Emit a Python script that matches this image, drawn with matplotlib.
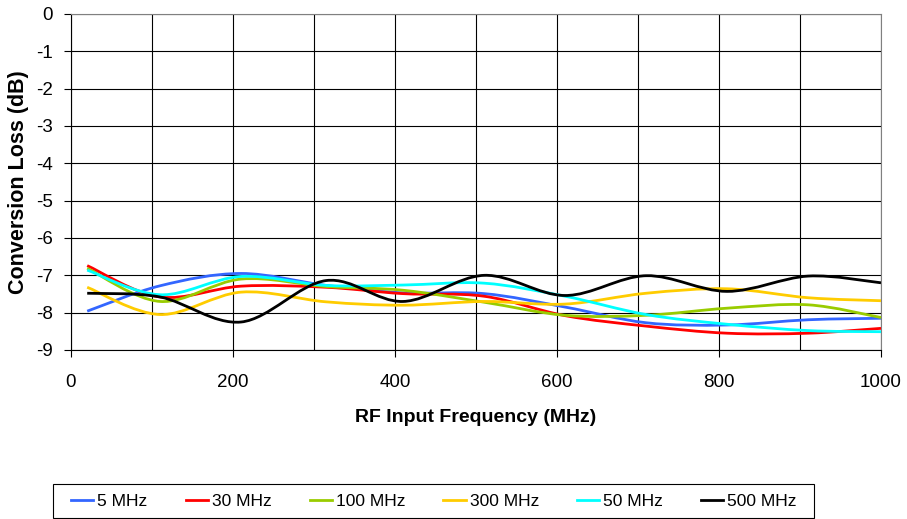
import matplotlib
matplotlib.use('Agg')
from matplotlib import pyplot as plt
from matplotlib.path import Path
from matplotlib.patches import PathPatch, Rectangle
from matplotlib.lines import Line2D
from matplotlib.ticker import MultipleLocator

plt.rcParams['font.family'] = ['Liberation Sans', 'DejaVu Sans']
plt.rcParams['axes.unicode_minus'] = False  # plain hyphen like the original

# RF input frequency (MHz) of the measured points
freq = [20, 110, 210, 315, 410, 510, 610, 710, 810, 910, 1000]

# conversion loss (dB) per IF frequency
loss_5 = [-7.96, -7.28, -6.95, -7.27, -7.47, -7.49, -7.85, -8.27, -8.33, -8.19, -8.15]
loss_30 = [-6.74, -7.58, -7.29, -7.32, -7.49, -7.56, -8.08, -8.36, -8.55, -8.55, -8.42]
loss_100 = [-6.81, -7.70, -7.10, -7.30, -7.40, -7.72, -8.07, -8.07, -7.88, -7.79, -8.13]
loss_300 = [-7.32, -8.05, -7.45, -7.71, -7.80, -7.70, -7.77, -7.48, -7.36, -7.60, -7.68]
loss_50 = [-6.86, -7.52, -7.03, -7.27, -7.26, -7.21, -7.56, -8.05, -8.31, -8.48, -8.51]
loss_500 = [-7.48, -7.58, -8.25, -7.14, -7.70, -7.00, -7.54, -7.01, -7.43, -7.02, -7.20]

series = [
    ('5 MHz', loss_5, '#3366FF'),
    ('30 MHz', loss_30, '#FF0000'),
    ('100 MHz', loss_100, '#99CC00'),
    ('300 MHz', loss_300, '#FFCC00'),
    ('50 MHz', loss_50, '#00FFFF'),
    ('500 MHz', loss_500, '#000000'),
]


def smooth_path(xs, ys):
    # bezier curve through the points, like a smoothed line in a spreadsheet chart
    pts = list(zip(xs, ys))
    n = len(pts)
    verts = [pts[0]]
    codes = [Path.MOVETO]
    for i in range(n - 1):
        p0 = pts[i - 1] if i > 0 else pts[i]
        p1 = pts[i]
        p2 = pts[i + 1]
        p3 = pts[i + 2] if i + 2 < n else pts[i + 1]
        c1 = (p1[0] + (p2[0] - p0[0]) / 6, p1[1] + (p2[1] - p0[1]) / 6)
        c2 = (p2[0] - (p3[0] - p1[0]) / 6, p2[1] - (p3[1] - p1[1]) / 6)
        verts += [c1, c2, p2]
        codes += [Path.CURVE4] * 3
    return Path(verts, codes)


W, H = 907, 519
fig = plt.figure(figsize=(W / 100, H / 100), dpi=100)
ax = fig.add_axes([71 / W, 1 - 350 / H, 810 / W, 336 / H])

handles = []
for name, vals, col in series:
    ax.add_patch(PathPatch(smooth_path(freq, vals), fill=False, edgecolor=col, lw=2, zorder=3))
    handles.append(Line2D([], [], color=col, lw=2, label=name))

ax.set_xlim(0, 1000)
ax.set_ylim(-9, 0)
ax.xaxis.set_major_locator(MultipleLocator(200))
ax.xaxis.set_minor_locator(MultipleLocator(100))
ax.yaxis.set_major_locator(MultipleLocator(1))
ax.grid(True, which='both', color='black', lw=0.8)
ax.tick_params(axis='x', which='minor', length=0)
ax.tick_params(labelsize=13.5, length=5, width=0.8, color='black', direction='out')
ax.tick_params(axis='x', pad=12)
ax.tick_params(axis='y', pad=8)

for s in ['left', 'bottom']:
    ax.spines[s].set_color('black')
for s in ['top', 'right']:
    ax.spines[s].set_color('#808080')

ax.set_xlabel('RF Input Frequency (MHz)', fontsize=14, fontweight='bold', va='center')
ax.xaxis.set_label_coords(0.5, (350 - 417) / 336)
ax.set_ylabel('Conversion Loss (dB)', fontsize=15.5, fontweight='bold', va='center')
ax.yaxis.set_label_coords((19 - 71) / 810, 0.5)

# legend entries without frame, box drawn separately (wider side padding)
leg = fig.legend(handles=handles, loc='center', bbox_to_anchor=(434 / W, 1 - 501 / H),
                 ncol=6, fontsize=12.5, frameon=False, handlelength=1.27,
                 handletextpad=0.23, columnspacing=2.2, borderpad=0.3)
fig.patches.append(Rectangle((53 / W, 1 - 518 / H), 761 / W, 34 / H, transform=fig.transFigure,
                             fill=False, edgecolor='black', lw=0.8))

fig.savefig('out.png', dpi=100)
